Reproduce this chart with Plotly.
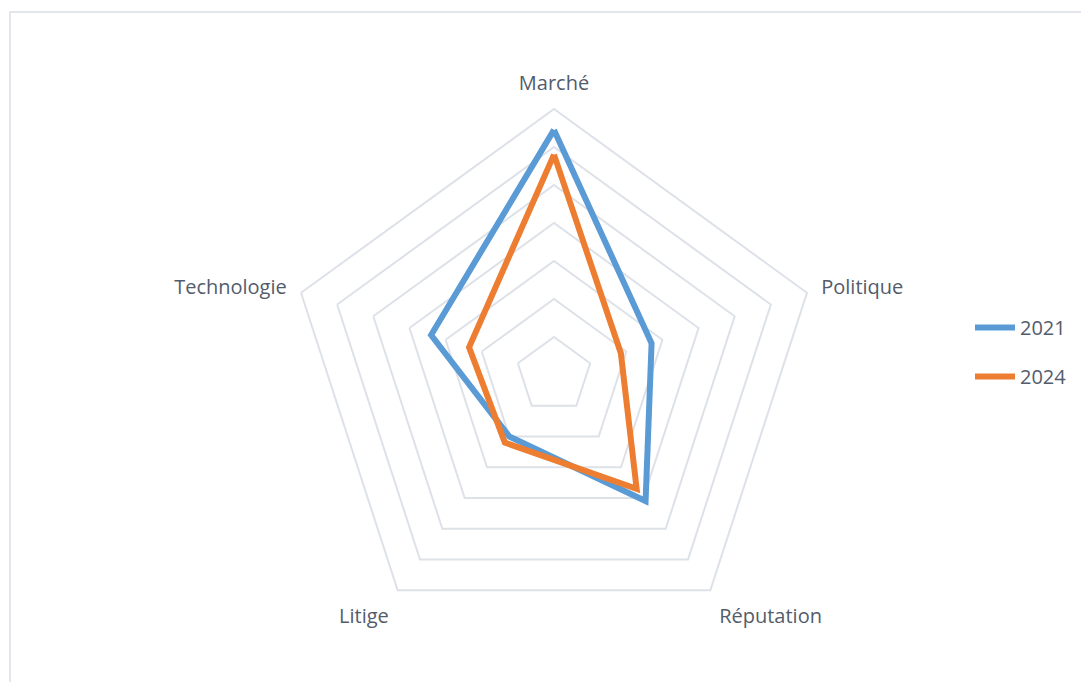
import plotly.graph_objects as go

categories = ["Marché", "Politique", "Réputation", "Litige", "Technologie"]
values_2021 = [6.45, 2.7, 4.1, 2.0, 3.4]
values_2024 = [5.8, 1.85, 3.7, 2.2, 2.35]
series_names = ["2021", "2024"]

W, H = 1089, 682
OFF = 8  # page body margin
cx, cy, R = 554 - OFF, 375 - OFF, 266

fig = go.Figure()
for name, vals, col in [(series_names[0], values_2021, "#5B9BD5"),
                        (series_names[1], values_2024, "#ED7D31")]:
    fig.add_trace(go.Scatterpolar(
        r=vals + vals[:1], theta=categories + categories[:1],
        mode="lines", name=name, legendgroup=name,
        line=dict(color=col, width=6, shape="linear"),
    ))

grid = "#dde1e8"
txt = "#535c6a"
fig.update_layout(
    width=W, height=H,
    margin=dict(l=0, r=0, t=0, b=0),
    paper_bgcolor="white",
    font=dict(family="Open Sans, Liberation Sans, sans-serif", color=txt, size=20),
    polar=dict(
        domain=dict(x=[(cx - R) / W, (cx + R) / W], y=[(H - cy - R) / H, (H - cy + R) / H]),
        gridshape="linear",
        bgcolor="white",
        radialaxis=dict(range=[0, 7], dtick=1, showticklabels=False, ticks="",
                        showline=False, gridcolor=grid, gridwidth=2),
        angularaxis=dict(rotation=90, direction="clockwise", showgrid=False,
                         showline=True, linecolor=grid, linewidth=2,
                         ticks="outside", ticklen=10, tickcolor="rgba(0,0,0,0)",
                         tickfont=dict(size=20, color=txt)),
    ),
    legend=dict(x=962 / W, y=1 - 344 / H, xanchor="left", yanchor="middle",
                traceorder="grouped", tracegroupgap=20,
                font=dict(size=20, color=txt), itemwidth=40),
    shapes=[dict(type="rect", xref="paper", yref="paper",
                 x0=(10 - OFF) / W, x1=1.02, y0=-0.02, y1=1 - (12 - OFF) / H,
                 line=dict(color="#d9dde3", width=1.5))],
)

fig.write_html("out.html")
